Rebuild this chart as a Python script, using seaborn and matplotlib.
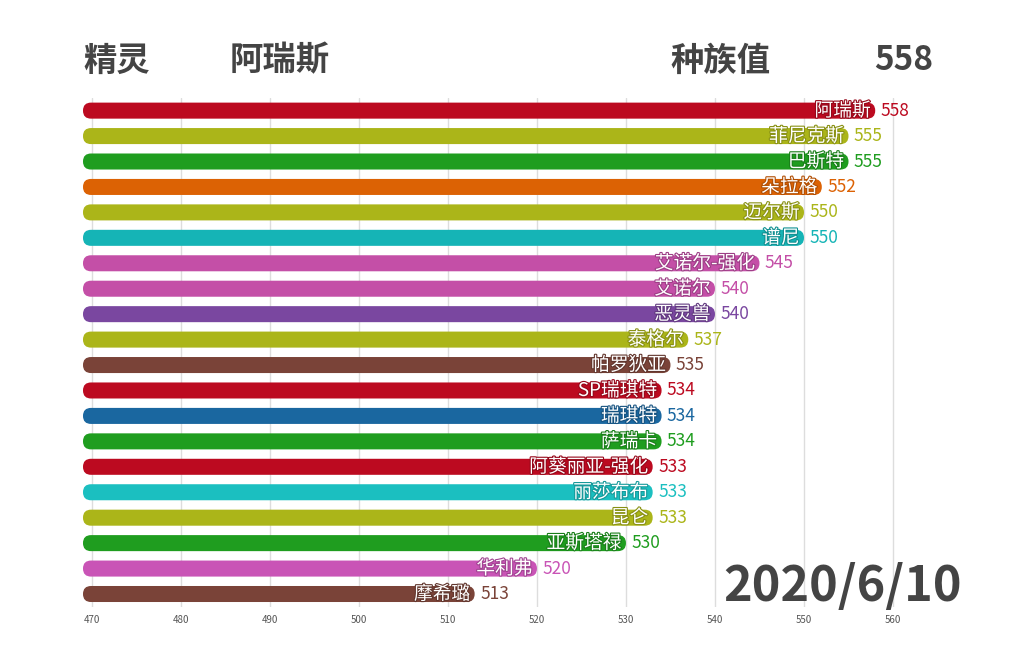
import numpy as np
import pandas as pd
import seaborn as sns
import matplotlib.pyplot as plt
import matplotlib.colors as mcolors
import matplotlib.patheffects as pe
from matplotlib.patches import FancyBboxPatch

sns.set_theme(style="white")
plt.rcParams['font.family'] = ['Noto Sans CJK SC', 'DejaVu Sans']

names = ['阿瑞斯', '菲尼克斯', '巴斯特', '朵拉格', '迈尔斯', '谱尼', '艾诺尔-强化', '艾诺尔',
         '恶灵兽', '泰格尔', '帕罗狄亚', 'SP瑞琪特', '瑞琪特', '萨瑞卡', '阿葵丽亚-强化',
         '丽莎布布', '昆仑', '亚斯塔禄', '华利弗', '摩希璐']
values = [558, 555, 555, 552, 550, 550, 545, 540, 540, 537, 535, 534, 534, 534, 533,
          533, 533, 530, 520, 513]
colors = ['#bc0a20', '#abb519', '#1f9d1f', '#dc6204', '#abb519', '#15b4b6', '#c44fa7',
          '#c44fa7', '#7a47a0', '#abb519', '#7a4338', '#bc0a20', '#1a67a0', '#1f9d1f',
          '#bc0a20', '#1bbfc0', '#abb519', '#1f9d1f', '#c954b6', '#7a4338']
xticks = [470, 480, 490, 500, 510, 520, 530, 540, 550, 560]
x_start = 469

df = pd.DataFrame({'name': names, 'value': values})

fig = plt.figure(figsize=(10.36, 6.48), dpi=100)
ax = fig.add_axes([0.0801, 0.0633, 0.885, 0.786])

sns.barplot(data=df, x='value', y='name', hue='name', palette=colors,
            legend=False, orient='h', width=0.63, ax=ax)

ax.set_xlim(x_start, 572)
ax.set_ylim(len(names) - 0.49, -0.51)

# swap the flat bars for rounded ones starting at the axis minimum
px_x = ax.get_position().width * 1036 / (572 - x_start)
px_y = ax.get_position().height * 648 / len(names)
aspect = px_x / px_y
bars = list(ax.patches)
for bar, c in zip(bars, colors):
    y0, h, w = bar.get_y(), bar.get_height(), bar.get_width()
    bar.set_visible(False)
    r = h / aspect / 2
    ax.add_patch(FancyBboxPatch((x_start, y0), w - x_start, h,
                                boxstyle=f'round,pad=0,rounding_size={r}',
                                mutation_aspect=aspect,
                                facecolor=c, edgecolor='none', zorder=3))

for i, (n, v, c) in enumerate(zip(names, values, colors)):
    dark = tuple(x * 0.8 for x in mcolors.to_rgb(c))
    ax.text(v - 0.5, i, n, ha='right', va='center', color='white', fontsize=13.5,
            zorder=5, path_effects=[pe.withStroke(linewidth=1.6, foreground=dark)])
    ax.text(v + 0.6, i, str(v), ha='left', va='center', color=c, fontsize=12.5, zorder=5)

ax.set_xticks(xticks)
ax.set_xticklabels([str(t) for t in xticks], fontsize=7, color='#555555')
ax.tick_params(axis='x', length=0, pad=6)
ax.set_yticks([])
ax.set_xlabel('')
ax.set_ylabel('')
ax.grid(axis='x', color='#dddddd', linewidth=1, zorder=0)
ax.set_axisbelow(True)
sns.despine(ax=ax, left=True, bottom=True)

title_kw = dict(fontsize=24, fontweight='bold', color='#444444', va='center')
fig.text(83 / 1036, 1 - 61 / 648, '精灵', ha='left', **title_kw)
fig.text(230 / 1036, 1 - 61 / 648, names[0], ha='left', **title_kw)
fig.text(670 / 1036, 1 - 61 / 648, '种族值', ha='left', **title_kw)
fig.text(933 / 1036, 1 - 61 / 648, str(values[0]), ha='right', **title_kw)
fig.text(962 / 1036, 1 - 586 / 648, '2020/6/10', ha='right', va='center',
         fontsize=35, fontweight='bold', color='#444444')

fig.savefig('out.png', dpi=100)
